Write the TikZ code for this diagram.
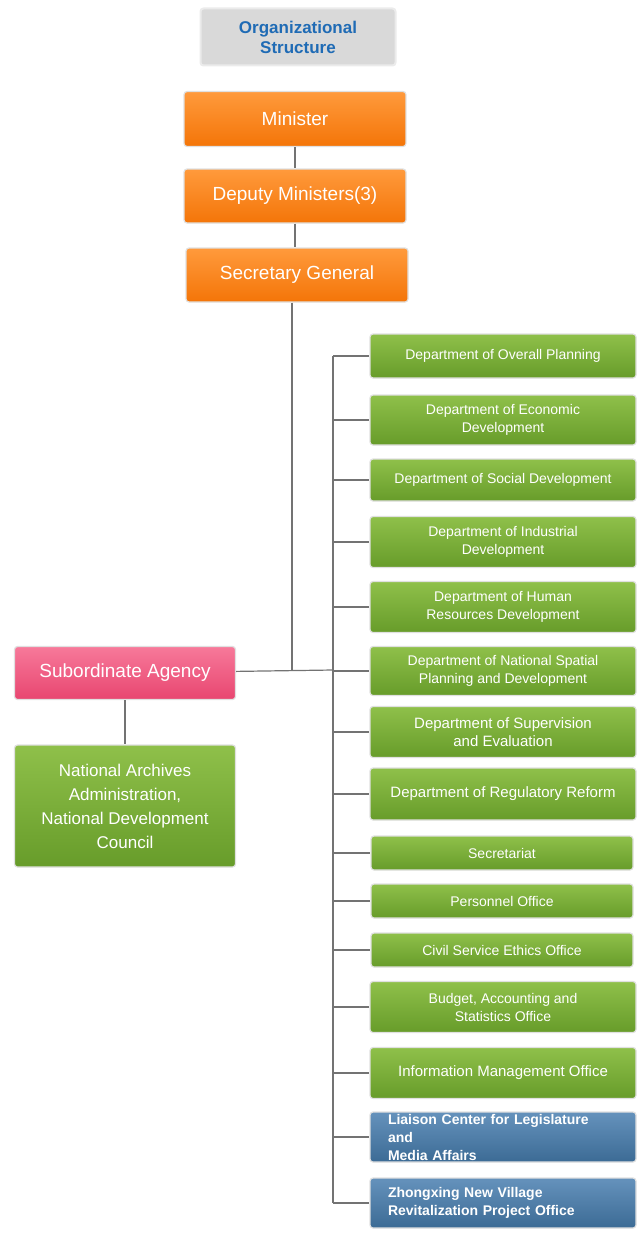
\documentclass[tikz,border=0pt]{standalone}
\usepackage{fontspec}
\setmainfont{Liberation Sans}
\definecolor{orgA}{HTML}{FF9A3C}
\definecolor{orgB}{HTML}{F47508}
\definecolor{grnA}{HTML}{8FC04A}
\definecolor{grnB}{HTML}{679C2A}
\definecolor{bluA}{HTML}{6592BC}
\definecolor{bluB}{HTML}{3C6B95}
\definecolor{pnkA}{HTML}{F7799A}
\definecolor{pnkB}{HTML}{E84670}
\definecolor{ttl}{HTML}{1F6BB5}
\tikzset{
  box/.style={draw=black!12, line width=1.2pt, rounded corners=3pt, text=white, align=center, inner sep=0pt},
  orange/.style={box, top color=orgA, bottom color=orgB, minimum width=222pt, minimum height=55pt, font=\fontsize{19}{22}\selectfont},
  green/.style={box, top color=grnA, bottom color=grnB, minimum width=266pt, font=\fontsize{14}{18}\selectfont},
  blue/.style={box, top color=bluA, bottom color=bluB, minimum width=266pt, minimum height=50pt, font=\bfseries\fontsize{14}{18}\selectfont, align=left, text width=230pt},
  link/.style={draw=black!55, line width=1.2pt}
}
\begin{document}
\begin{tikzpicture}[x=1pt,y=-1pt]
\useasboundingbox (0,0) rectangle (642,1247);
\node[box, fill=black!15, draw=black!8, line width=2pt, text=ttl, minimum width=195pt, minimum height=57pt, font=\bfseries\fontsize{17}{20}\selectfont] (title) at (298,37) {Organizational\\Structure};
\node[orange] (min) at (295,119) {Minister};
\node[orange, minimum height=54pt] (dep) at (295,196) {Deputy Ministers(3)};
\node[orange, minimum height=54pt] (sec) at (297,275) {Secretary General};
\node[box, top color=pnkA, bottom color=pnkB, minimum width=221pt, minimum height=53pt, font=\fontsize{19}{22}\selectfont] (sub) at (125,673) {Subordinate Agency};
\node[box, top color=grnA, bottom color=grnB, minimum width=221pt, minimum height=122pt, font=\fontsize{17}{24}\selectfont] (arc) at (125,806) {National Archives\\Administration,\\National Development\\Council};
\node[green, minimum height=44pt] (d1) at (503,356) {Department of Overall Planning};
\node[green, minimum height=50pt] (d2) at (503,420) {Department of Economic\\Development};
\node[green, minimum height=42pt] (d3) at (503,480) {Department of Social Development};
\node[green, minimum height=51pt] (d4) at (503,542) {Department of Industrial\\Development};
\node[green, minimum height=51pt] (d5) at (503,607) {Department of Human\\Resources Development};
\node[green, minimum height=49pt] (d6) at (503,671) {Department of National Spatial\\Planning and Development};
\node[green, minimum height=51pt, font=\fontsize{15}{18}\selectfont] (d7) at (503,732) {Department of Supervision\\and Evaluation};
\node[green, minimum height=52pt, font=\fontsize{15}{18}\selectfont] (d8) at (503,794) {Department of Regulatory Reform};
\node[green, minimum height=34pt, minimum width=262pt] (d9) at (502,853) {Secretariat};
\node[green, minimum height=34pt, minimum width=262pt] (d10) at (502,901) {Personnel Office};
\node[green, minimum height=34pt, minimum width=262pt] (d11) at (502,950) {Civil Service Ethics Office};
\node[green, minimum height=51pt] (d12) at (503,1007) {Budget, Accounting and\\Statistics Office};
\node[green, minimum height=51pt, font=\fontsize{15}{18}\selectfont] (d13) at (503,1073) {Information Management Office};
\node[blue] (d14) at (503,1137) {Liaison Center for Legislature and\\Media Affairs};
\node[blue] (d15) at (503,1203) {Zhongxing New Village\\Revitalization Project Office};
% connectors
\coordinate (hub) at (292,670);
\coordinate (bus) at (333,670);
\draw[link] (min) -- (dep);
\draw[link] (dep) -- (dep |- sec.north);
\draw[link] (sec.south -| hub) -- (hub);
\draw[link] (sub) -- (bus);
\draw[link] (sub) -- (arc);
\draw[link] (333,356) -- (333,1203);
\foreach \n in {d1,d2,d3,d4,d5,d6,d7,d8,d9,d10,d11,d12,d13,d14,d15}
  \draw[link] (\n.west -| bus) -- (\n.west);
\end{tikzpicture}
\end{document}
